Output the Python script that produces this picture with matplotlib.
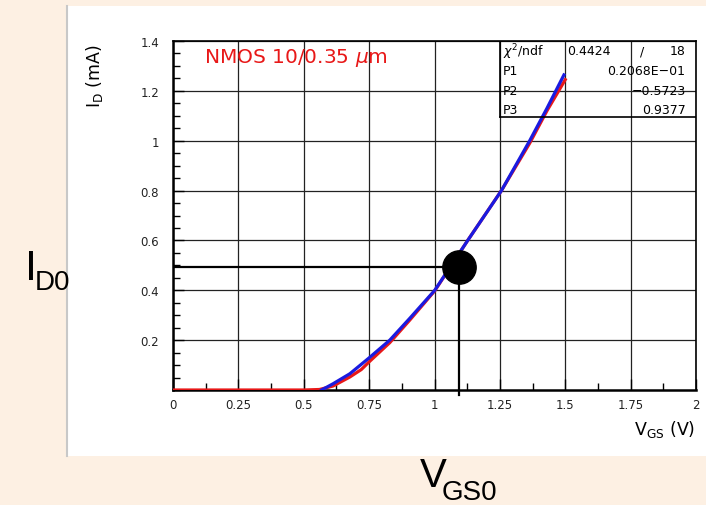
import matplotlib
matplotlib.use("Agg")
import matplotlib.pyplot as plt
from matplotlib.patches import Rectangle
from matplotlib.lines import Line2D
from matplotlib.ticker import MultipleLocator

plt.rcParams['font.family'] = ['DejaVu Sans']
plt.rcParams['mathtext.fontset'] = 'dejavusans'

vgs_data = [0.0, 0.50, 0.56, 0.612, 0.676, 0.72, 0.749, 0.829, 0.905, 1.001, 1.127, 1.256, 1.364, 1.43, 1.50]
id_data = [0.0, 0.0, 0.002, 0.016, 0.052, 0.082, 0.112, 0.19, 0.28, 0.398, 0.60, 0.80, 0.99, 1.12, 1.245]

vgs_fit = [0.568, 0.612, 0.676, 0.749, 0.829, 0.905, 1.001, 1.127, 1.256, 1.364, 1.43, 1.495]
id_fit = [0.0, 0.025, 0.065, 0.128, 0.200, 0.287, 0.40, 0.60, 0.80, 1.00, 1.13, 1.264]

# operating point
vgs0 = 1.094
id0 = 0.492

x_ticks = [0, 0.25, 0.5, 0.75, 1, 1.25, 1.5, 1.75, 2]
x_ticklabels = ['0', '0.25', '0.5', '0.75', '1', '1.25', '1.5', '1.75', '2']
y_ticks = [0.2, 0.4, 0.6, 0.8, 1.0, 1.2, 1.4]
y_ticklabels = ['0.2', '0.4', '0.6', '0.8', '1', '1.2', '1.4']

fit_rows = [(r'$\chi^2$/ndf', '0.4424', '18'),
            ('P1', '0.2068E\u221201', None),
            ('P2', '\u22120.5723', None),
            ('P3', '0.9377', None)]

W, H = 706, 506
fig = plt.figure(figsize=(W / 100, H / 100), dpi=100)
fig.patch.set_facecolor('#fdf0e3')

# white slide panel with grey left edge
fig.patches.append(Rectangle((67 / W, 1 - 457 / H), 1 - 67 / W, (457 - 7) / H,
                             transform=fig.transFigure, facecolor='white',
                             edgecolor='none', zorder=-2))
fig.lines.append(Line2D([67 / W, 67 / W], [1 - 457 / H, 1 - 7 / H],
                        transform=fig.transFigure, color='#c8c8c8', lw=1.5, zorder=-1))

ax = fig.add_axes([173 / W, 1 - 391 / H, (696 - 173) / W, (391 - 42) / H])
ax.set_zorder(1)
ax.set_xlim(0, 2)
ax.set_ylim(0, 1.4)

ax.grid(True, which='major', color='#222222', lw=0.9)
ax.set_axisbelow(True)
ax.xaxis.set_minor_locator(MultipleLocator(0.125))
ax.yaxis.set_minor_locator(MultipleLocator(0.05))
ax.set_xticks(x_ticks)
ax.set_xticklabels(x_ticklabels)
ax.set_yticks(y_ticks)
ax.set_yticklabels(y_ticklabels)
ax.tick_params(which='both', direction='in', colors='black', width=1.0)
ax.tick_params(which='major', length=8, labelsize=8.5, labelcolor='#222222')
ax.tick_params(which='minor', length=5)
ax.tick_params(axis='y', which='major', pad=10)
ax.tick_params(axis='x', which='major', pad=6)
for s in ['left', 'bottom']:
    ax.spines[s].set_linewidth(1.8)
for s in ['top', 'right']:
    ax.spines[s].set_linewidth(1.2)

ax.plot(vgs_data, id_data, color='#e81818', lw=2.3, zorder=3)
ax.plot(vgs_fit, id_fit, color='#1a1ae0', lw=2.3, zorder=4)

# operating point with guide lines
ax.plot([0, vgs0], [id0, id0], color='black', lw=1.6, zorder=5)
ax.plot([vgs0, vgs0], [id0, -0.022], color='black', lw=1.6, zorder=5, clip_on=False)
ax.plot([vgs0], [id0], 'o', color='black', ms=24, zorder=6)

ax.text(0.12, 1.335, r'NMOS 10/0.35 $\mu$m', color='#e81818', fontsize=14.5,
        va='center', ha='left')

# fit statistics box
ax.plot([1.25, 1.25], [1.095, 1.4], color='black', lw=1.2, zorder=5)
ax.plot([1.25, 2.0], [1.095, 1.095], color='black', lw=1.2, zorder=5)
row_y = [1.36, 1.28, 1.20, 1.125]
for (name, val, ndf), yy in zip(fit_rows, row_y):
    ax.text(1.262, yy, name, fontsize=9, va='center', ha='left', zorder=7)
    if ndf is None:
        ax.text(1.96, yy, val, fontsize=9, va='center', ha='right', zorder=7)
    else:
        ax.text(1.508, yy, val, fontsize=9, va='center', ha='left', zorder=7)
        ax.text(1.795, yy, '/', fontsize=9, va='center', ha='center', zorder=7)
        ax.text(1.96, yy, ndf, fontsize=9, va='center', ha='right', zorder=7)

fig.text(95 / W, 1 - 76 / H, r'I$_\mathrm{D}$ (mA)', rotation=90, fontsize=12.5,
         ha='center', va='center')
fig.text(695 / W, 1 - 430 / H, r'V$_\mathrm{GS}$ (V)', fontsize=12.5,
         ha='right', va='center')

# big annotations on the slide
big = ['Liberation Sans', 'DejaVu Sans']
fig.text(25 / W, 1 - 280 / H, 'I', fontsize=31, ha='left', va='baseline', family=big)
fig.text(35 / W, 1 - 290 / H, 'D0', fontsize=20, ha='left', va='baseline', family=big)
fig.text(420 / W, 1 - 487 / H, 'V', fontsize=29, ha='left', va='baseline', family=big)
fig.text(442 / W, 1 - 500 / H, 'GS0', fontsize=20, ha='left', va='baseline', family=big)

fig.savefig('out.png', dpi=100, facecolor=fig.get_facecolor())
